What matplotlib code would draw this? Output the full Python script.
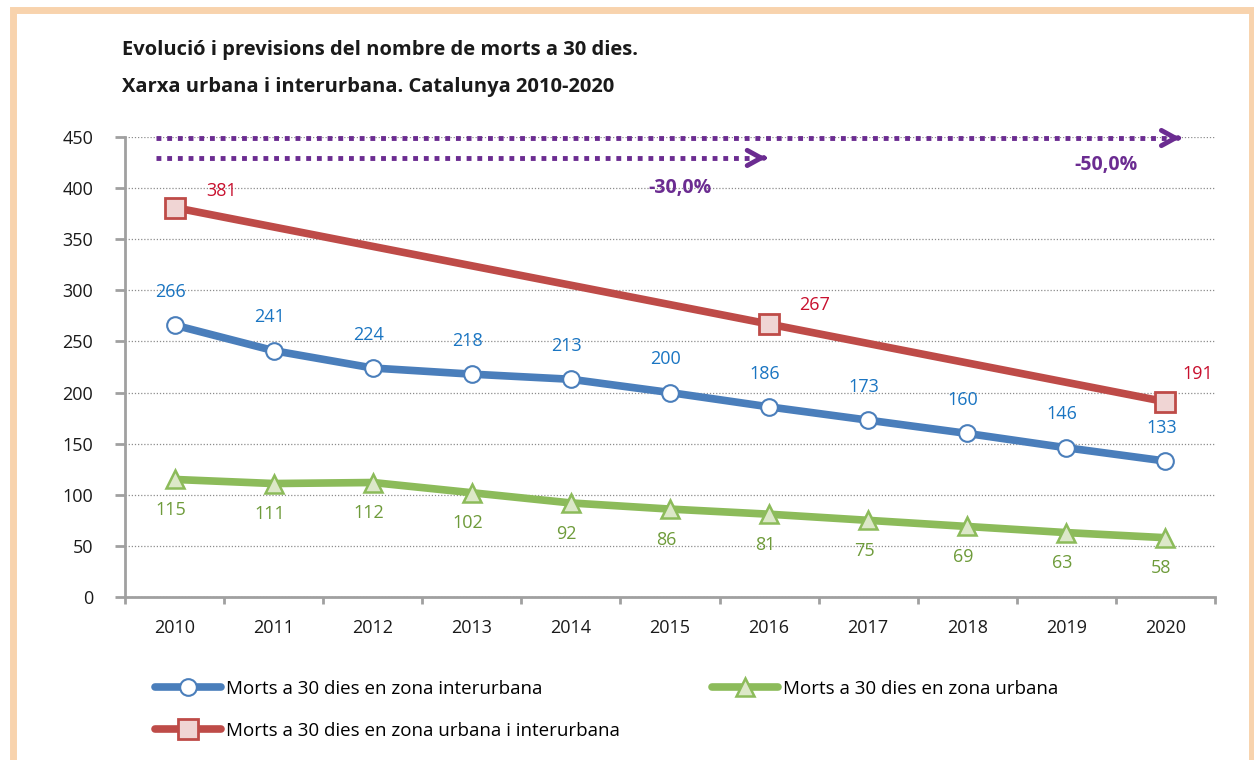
import numpy as np
import matplotlib.pyplot as plt
from matplotlib.patches import Rectangle

plt.rcParams['font.family'] = ['Open Sans', 'DejaVu Sans']

# ============================ DATA ===================================
years = ['2010', '2011', '2012', '2013', '2014', '2015', '2016', '2017', '2018', '2019', '2020']
interurbana = [266, 241, 224, 218, 213, 200, 186, 173, 160, 146, 133]
urbana = [115, 111, 112, 102, 92, 86, 81, 75, 69, 63, 58]
total_years = ['2010', '2016', '2020']
total = [381, 267, 191]

label_inter = "Morts a 30 dies en zona interurbana"
label_urb = "Morts a 30 dies en zona urbana"
label_tot = "Morts a 30 dies en zona urbana i interurbana"

# objectius (fletxes)
target_30 = "-30,0%"
target_50 = "-50,0%"

title1 = "Evolució i previsions del nombre de morts a 30 dies."
title2 = "Xarxa urbana i interurbana. Catalunya 2010-2020"

# ============================ STYLE ===================================
blue = '#4A7EBB'
blue_txt = '#1A75C2'
red = '#BE4B48'
red_txt = '#C8102E'
green = '#8CBB5A'
green_txt = '#6E9B3A'
purple = '#6B2C91'
grey = '#A0A0A0'

W, H = 1254, 760
fig = plt.figure(figsize=(W/100, H/100), dpi=100)
ax = fig.add_axes([125/W, 1-597/H, (1215-125)/W, (597-137)/H])

x = np.arange(len(years))
x_tot = [years.index(y) for y in total_years]

ax.plot(x, interurbana, color=blue, lw=5.5, marker='o', ms=12, mfc='white', mec=blue, mew=1.5,
        label=label_inter, zorder=4, solid_capstyle='round')
ax.plot(x, urbana, color=green, lw=5.5, marker='^', ms=13, mfc='#DCE8C8', mec=green, mew=1.8,
        label=label_urb, zorder=4, solid_capstyle='round')
ax.plot(x_tot, total, color=red, lw=5.5, marker='s', ms=15, mfc='#F0D5D4', mec=red, mew=2,
        label=label_tot, zorder=4, solid_capstyle='round')

for xi, v in zip(x, interurbana):
    ax.annotate(str(v), (xi, v), xytext=(-3, 24), textcoords='offset points', ha='center', va='center',
                color=blue_txt, fontsize=13)
for xi, v in zip(x, urbana):
    ax.annotate(str(v), (xi, v), xytext=(-3, -22), textcoords='offset points', ha='center', va='center',
                color=green_txt, fontsize=13)
red_offsets = [(34, 12), (33, 14), (23, 20)]
for xi, v, off in zip(x_tot, total, red_offsets):
    ax.annotate(str(v), (xi, v), xytext=off, textcoords='offset points', ha='center', va='center',
                color=red_txt, fontsize=13)

# arrows (targets)
ax.plot([-0.19, 10.05], [449, 449], color=purple, lw=3.5, linestyle=(0, (1, 1.2)), zorder=3,
        clip_on=False)
ax.plot([-0.19, 5.85], [429.5, 429.5], color=purple, lw=3.5, linestyle=(0, (1, 1.2)), zorder=3)
for xe, ye in [(10.15, 449), (5.97, 429.5)]:
    ax.annotate('', xy=(xe, ye), xytext=(xe - 0.05, ye),
                arrowprops=dict(arrowstyle='->,head_length=1.0,head_width=0.55', lw=3.5,
                                color=purple, capstyle='round', joinstyle='round'),
                annotation_clip=False)
ax.text(5.1, 400, target_30, color=purple, fontsize=14, fontweight='bold', ha='center', va='center')
ax.text(9.4, 423, target_50, color=purple, fontsize=14, fontweight='bold', ha='center', va='center')

# axes
ax.set_xlim(-0.5, len(years) - 0.5)
ax.set_ylim(0, 450)
ax.set_yticks(np.arange(0, 451, 50))
ax.set_xticks(x)
ax.set_xticklabels(years)
ax.set_xticks(np.arange(-0.5, len(years), 1), minor=True)
ax.tick_params(axis='x', which='major', length=0, pad=16, labelsize=13, labelcolor='#1A1A1A')
ax.tick_params(axis='x', which='minor', length=5, width=2, color=grey, direction='out')
ax.tick_params(axis='y', length=7, width=2, color=grey, pad=16, labelsize=13, labelcolor='#1A1A1A')
for s in ['top', 'right']:
    ax.spines[s].set_visible(False)
for s in ['left', 'bottom']:
    ax.spines[s].set_color(grey)
    ax.spines[s].set_linewidth(2)
ax.grid(axis='y', color='#8C8C8C', linestyle=(0, (1, 1.5)), lw=0.9)
ax.set_axisbelow(True)

# legend
h, l = ax.get_legend_handles_labels()
order = [0, 2, 1]
fig.legend([h[i] for i in order], [l[i] for i in order], ncol=2, frameon=False,
           loc='upper left', bbox_to_anchor=(138/W, 1-663/H), fontsize=13.5,
           handlelength=3.5, handletextpad=0.3, columnspacing=4.9, labelspacing=1.27)

# titles
fig.text(122/W, 1-50/H, title1, fontsize=14.5, fontweight='bold', color='#1A1A1A', va='center')
fig.text(122/W, 1-87/H, title2, fontsize=14.5, fontweight='bold', color='#1A1A1A', va='center')

# border
fig.patches.append(Rectangle((12.5/W, -0.1), (1251.5-12.5)/W, 1.1 - 10/H, transform=fig.transFigure,
                             fill=False, edgecolor='#F8D3AD', lw=5))

fig.savefig('out.png', dpi=100)
